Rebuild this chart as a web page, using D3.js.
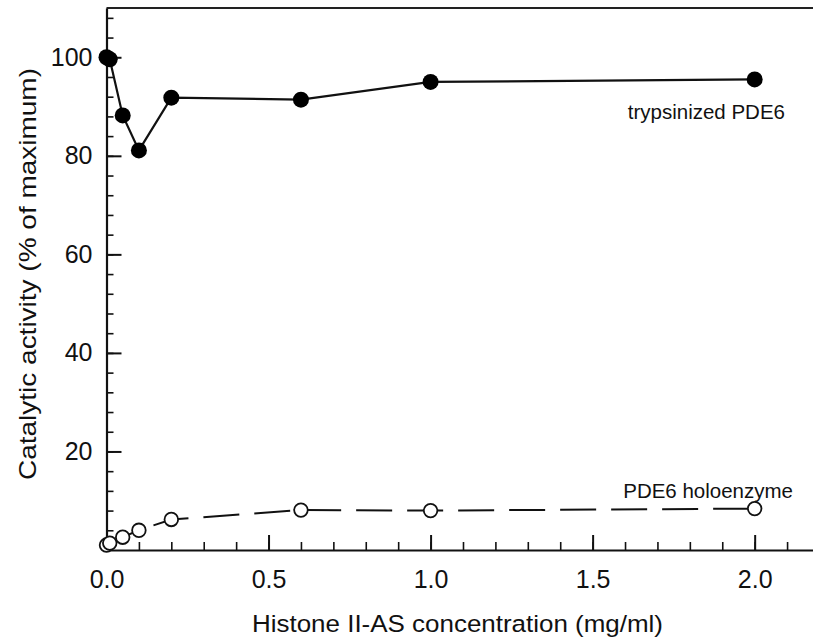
<!DOCTYPE html>
<html>
<head>
<meta charset="utf-8">
<script src="https://cdn.jsdelivr.net/npm/d3@7"></script>
<style>
	body { margin: 0; background: #fff; }
	svg { display: block; }
</style>
</head>
<body>
<svg id="chart"></svg>
<script>
// concentrations (mg/ml)
const conc = [0, 0.01, 0.05, 0.1, 0.2, 0.6, 1.0, 2.0];
// % of maximum activity
const trypsinized = [100, 99.6, 88.2, 81.1, 91.8, 91.4, 95.0, 95.5];
const holoenzyme = [1.0, 1.4, 2.6, 4.0, 6.2, 8.1, 8.0, 8.4];

const xMajorTicks = [0, 0.5, 1.0, 1.5, 2.0];
const yMajorTicks = [20, 40, 60, 80, 100];

const width = 813;
const height = 640;

const svg = d3.select('#chart')
	.attr('width', width)
	.attr('height', height)
	.style('font-family', '"Liberation Sans", Arial, sans-serif');

const x = d3.scaleLinear().domain([0, 2.18]).range([106.5, 813]);
const y = d3.scaleLinear().domain([0, 110]).range([550, 8]);

// top border line
svg.append('line')
	.attr('x1', x(0)).attr('x2', x.range()[1])
	.attr('y1', y(110)).attr('y2', y(110))
	.attr('stroke', '#222').attr('stroke-width', 2);

// minor ticks
const xMinor = d3.range(1, 22).map((d) => d / 10);
const yMinor = d3.range(4, 110, 4);

svg.append('g')
	.attr('transform', `translate(0,${y(0)})`)
	.call(d3.axisBottom(x).tickValues(xMinor).tickSize(-8).tickFormat(''))
	.call((g) => g.select('.domain').remove())
	.call((g) => g.selectAll('.tick line').attr('stroke-width', 1.6));

svg.append('g')
	.attr('transform', `translate(${x(0)},0)`)
	.call(d3.axisLeft(y).tickValues(yMinor).tickSize(-7).tickFormat(''))
	.call((g) => g.select('.domain').remove())
	.call((g) => g.selectAll('.tick line').attr('stroke-width', 1.6));

// major axes with labels
svg.append('g')
	.attr('transform', `translate(0,${y(0)})`)
	.call(d3.axisBottom(x).tickValues(xMajorTicks).tickSize(-15).tickPadding(20).tickSizeOuter(0).tickFormat(d3.format('.1f')))
	.call((g) => g.select('.domain').attr('stroke-width', 2.2))
	.call((g) => g.selectAll('.tick line').attr('stroke-width', 2))
	.call((g) => g.selectAll('.tick text').attr('font-size', 25).attr('fill', '#111'));

svg.append('g')
	.attr('transform', `translate(${x(0)},0)`)
	.call(d3.axisLeft(y).tickValues(yMajorTicks).tickSize(-15).tickPadding(14).tickSizeOuter(0))
	.call((g) => g.select('.domain').attr('stroke-width', 2.2))
	.call((g) => g.selectAll('.tick line').attr('stroke-width', 2))
	.call((g) => g.selectAll('.tick text').attr('font-size', 25).attr('fill', '#111'));

svg.selectAll('.domain, .tick line').attr('stroke', '#111');

// axis titles
svg.append('text')
	.attr('x', 457.5)
	.attr('y', 632)
	.attr('text-anchor', 'middle')
	.attr('font-size', 24.5)
	.attr('textLength', 411)
	.attr('lengthAdjust', 'spacingAndGlyphs')
	.attr('fill', '#111')
	.text('Histone II-AS concentration (mg/ml)');

svg.append('text')
	.attr('transform', 'translate(36,274) rotate(-90)')
	.attr('text-anchor', 'middle')
	.attr('font-size', 24)
	.attr('textLength', 412)
	.attr('lengthAdjust', 'spacingAndGlyphs')
	.attr('fill', '#111')
	.text('Catalytic activity (% of maximum)');

// data
const tryData = conc.map((c, i) => ({ x: c, y: trypsinized[i] }));
const holoData = conc.map((c, i) => ({ x: c, y: holoenzyme[i] }));

const line = d3.line().x((d) => x(d.x)).y((d) => y(d.y));

svg.append('path')
	.datum(holoData)
	.attr('d', line)
	.attr('fill', 'none')
	.attr('stroke', '#111')
	.attr('stroke-width', 2)
	.attr('stroke-dasharray', '36,15');

svg.append('path')
	.datum(tryData)
	.attr('d', line)
	.attr('fill', 'none')
	.attr('stroke', '#111')
	.attr('stroke-width', 2.2);

svg.append('g')
	.selectAll('circle')
	.data(holoData)
	.join('circle')
	.attr('cx', (d) => x(d.x))
	.attr('cy', (d) => y(d.y))
	.attr('r', 6.8)
	.attr('fill', '#fff')
	.attr('stroke', '#111')
	.attr('stroke-width', 1.8);

svg.append('g')
	.selectAll('circle')
	.data(tryData)
	.join('circle')
	.attr('cx', (d) => x(d.x))
	.attr('cy', (d) => y(d.y))
	.attr('r', 8)
	.attr('fill', '#000');

// series labels
svg.append('text')
	.attr('x', 785)
	.attr('y', 119)
	.attr('text-anchor', 'end')
	.attr('font-size', 20.5)
	.attr('fill', '#111')
	.text('trypsinized PDE6');

svg.append('text')
	.attr('x', 793)
	.attr('y', 498)
	.attr('text-anchor', 'end')
	.attr('font-size', 20.5)
	.attr('fill', '#111')
	.text('PDE6 holoenzyme');
</script>
</body>
</html>
